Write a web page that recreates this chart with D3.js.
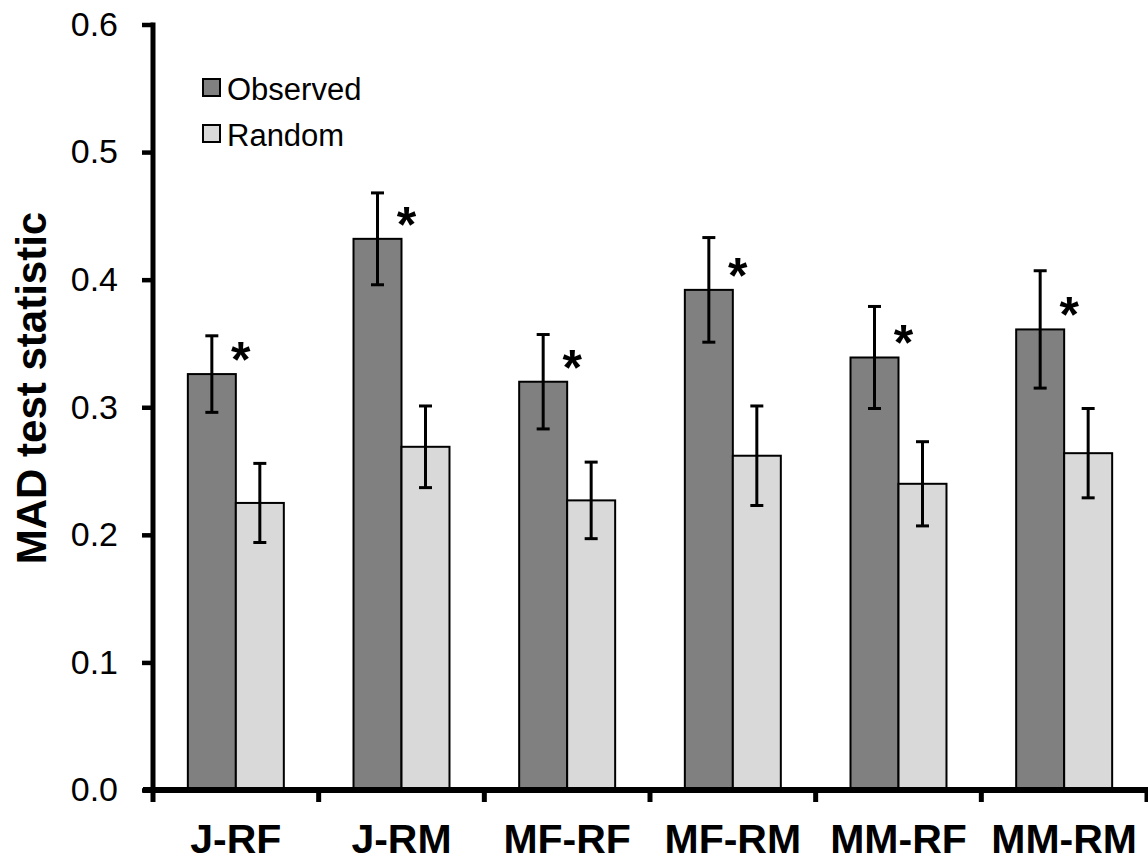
<!DOCTYPE html>
<html>
<head>
<meta charset="utf-8">
<script src="https://cdn.jsdelivr.net/npm/d3@7"></script>
<style>
  html, body { margin: 0; padding: 0; background: #fff; }
  svg { display: block; }
  text { font-family: "Liberation Sans", Arial, Helvetica, sans-serif; fill: #000; }
</style>
</head>
<body>
<svg id="chart" width="1148" height="865"></svg>
<script>
// Pair comparisons and their MAD test statistics (mean ± error)
const categories = ["J-RF", "J-RM", "MF-RF", "MF-RM", "MM-RF", "MM-RM"];
const seriesNames = ["Observed", "Random"];
const observed = [0.326, 0.432, 0.320, 0.392, 0.339, 0.361];
const observedErr = [0.030, 0.036, 0.037, 0.041, 0.040, 0.046];
const random = [0.225, 0.269, 0.227, 0.262, 0.240, 0.264];
const randomErr = [0.031, 0.032, 0.030, 0.039, 0.033, 0.035];
const significant = [true, true, true, true, true, true];
const yTicks = [0, 0.1, 0.2, 0.3, 0.4, 0.5, 0.6];
const yTitle = "MAD test statistic";

const colors = { Observed: "#808080", Random: "#d9d9d9" };

const svg = d3.select("#chart");

const plot = { left: 153, right: 1147, top: 24.5, bottom: 790 };

const x0 = d3.scaleBand().domain(categories).range([plot.left, plot.right]);
const x1 = d3.scaleBand().domain(seriesNames).range([0, x0.bandwidth()])
  .paddingInner(0).paddingOuter(0.726);
const y = d3.scaleLinear().domain([0, 0.6]).range([plot.bottom, plot.top]);

const rows = categories.map((c, i) => ({
  cat: c,
  sig: significant[i],
  values: [
    { key: "Observed", v: observed[i], e: observedErr[i] },
    { key: "Random", v: random[i], e: randomErr[i] }
  ]
}));

// Bars
const groups = svg.append("g").selectAll("g").data(rows).join("g")
  .attr("transform", d => `translate(${x0(d.cat)},0)`);

groups.selectAll("rect").data(d => d.values).join("rect")
  .attr("x", d => x1(d.key))
  .attr("y", d => y(d.v))
  .attr("width", x1.bandwidth())
  .attr("height", d => y(0) - y(d.v))
  .attr("fill", d => colors[d.key])
  .attr("stroke", "#000")
  .attr("stroke-width", 2);

// Error bars
const capW = 13;
const eb = groups.selectAll("g.err").data(d => d.values).join("g").attr("class", "err")
  .attr("transform", d => `translate(${x1(d.key) + x1.bandwidth() / 2},0)`);
eb.append("line")
  .attr("x1", 0).attr("x2", 0)
  .attr("y1", d => y(d.v + d.e)).attr("y2", d => y(d.v - d.e))
  .attr("stroke", "#000").attr("stroke-width", 3);
eb.append("line")
  .attr("x1", -capW / 2).attr("x2", capW / 2)
  .attr("y1", d => y(d.v + d.e)).attr("y2", d => y(d.v + d.e))
  .attr("stroke", "#000").attr("stroke-width", 3);
eb.append("line")
  .attr("x1", -capW / 2).attr("x2", capW / 2)
  .attr("y1", d => y(d.v - d.e)).attr("y2", d => y(d.v - d.e))
  .attr("stroke", "#000").attr("stroke-width", 3);

// Significance markers
groups.filter(d => d.sig).append("text")
  .attr("x", x1("Observed") + x1.bandwidth() + 5)
  .attr("y", d => y(d.values[0].v) - 23 + 26)
  .attr("text-anchor", "middle")
  .attr("font-size", 50)
  .attr("font-weight", "bold")
  .text("*");

// Y axis
const yAxis = d3.axisLeft(y).tickValues(yTicks).tickFormat(d3.format(".1f"))
  .tickSize(11).tickPadding(24);
const gy = svg.append("g").attr("transform", `translate(${plot.left},0)`).call(yAxis);
gy.select(".domain").attr("d", `M0,${plot.top - 2}V${plot.bottom}`)
  .attr("stroke", "#000").attr("stroke-width", 5);
gy.selectAll(".tick line").attr("stroke", "#000").attr("stroke-width", 4.5);
gy.selectAll(".tick text").attr("font-size", 34)
  .style("font-family", "'Liberation Sans', Arial, sans-serif");

// X axis: ticks at group boundaries
const boundaries = categories.map(c => x0(c)).concat([plot.right]);
const gx = svg.append("g");
gx.append("line")
  .attr("x1", plot.left - 10).attr("x2", plot.right + 2)
  .attr("y1", plot.bottom).attr("y2", plot.bottom)
  .attr("stroke", "#000").attr("stroke-width", 6);
gx.selectAll("line.tk").data(boundaries).join("line").attr("class", "tk")
  .attr("x1", d => d).attr("x2", d => d)
  .attr("y1", plot.bottom).attr("y2", plot.bottom + 12)
  .attr("stroke", "#000").attr("stroke-width", 5);
gx.selectAll("text").data(categories).join("text")
  .attr("x", d => x0(d) + x0.bandwidth() / 2)
  .attr("y", 853)
  .attr("text-anchor", "middle")
  .attr("font-size", 41)
  .attr("font-weight", "bold")
  .text(d => d);

// Y axis title
svg.append("text")
  .attr("transform", "translate(46,388) rotate(-90)")
  .attr("text-anchor", "middle")
  .attr("font-size", 42)
  .attr("font-weight", "bold")
  .text(yTitle);

// Legend
const legend = svg.append("g").selectAll("g").data(seriesNames).join("g")
  .attr("transform", (d, i) => `translate(203,${79 + i * 46})`);
legend.append("rect")
  .attr("x", 0).attr("y", 0).attr("width", 17).attr("height", 17)
  .attr("fill", d => colors[d]).attr("stroke", "#000").attr("stroke-width", 2);
legend.append("text")
  .attr("x", 24).attr("y", 21)
  .attr("font-size", 31)
  .text(d => d);
</script>
</body>
</html>
